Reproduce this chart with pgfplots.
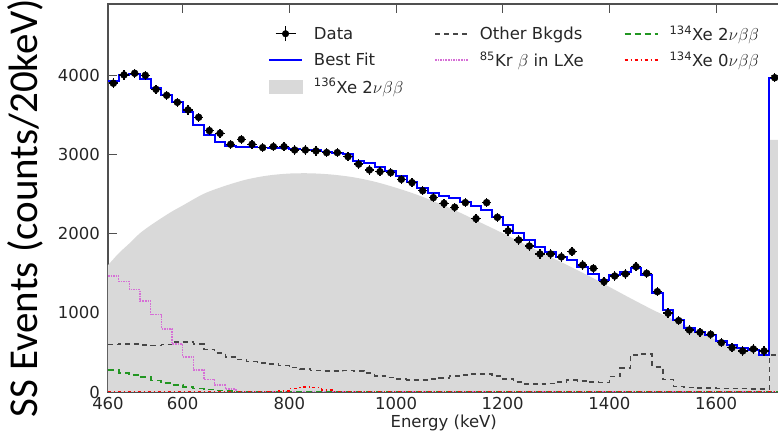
\documentclass[border=0pt]{standalone}
\usepackage{pgfplots}
\pgfplotsset{compat=1.18}
\usepackage{fontspec}
\setmainfont{DejaVu Sans}
\newfontfamily\carlito{Carlito}
\definecolor{xegray}{RGB}{217,217,217}
\definecolor{bkgray}{RGB}{70,70,70}
\definecolor{krviolet}{RGB}{214,110,214}
\definecolor{xegreen}{RGB}{34,150,34}
\definecolor{axgray}{RGB}{80,80,80}
\newcommand\mfont{\fontsize{16.5bp}{19bp}\selectfont}
\begin{document}
\begin{tikzpicture}
\begin{axis}[
  scale only axis, width=671.5bp, height=388bp,
  xmin=460, xmax=1719, ymin=0, ymax=4911,
  xtick={460,600,800,1000,1200,1400,1600},
  ytick={0,1000,2000,3000,4000},
  /pgf/number format/1000 sep={},
  /pgf/number format/assume math mode=true,
  tick align=inside, major tick length=9bp,
  tick style={axgray, line width=1bp},
  axis line style={axgray, line width=1.2bp},
  ticklabel style={font=\mfont, text=black!85},
  xticklabel style={inner sep=0bp, yshift=-4.7bp},
  yticklabel style={inner sep=0bp, xshift=-8bp},
  xlabel={Energy (keV)},
  xlabel style={font=\mfont, text=black!85, at={(rel axis cs:0.5,0)}, anchor=base, yshift=-35bp},
  legend image code/.code={\draw[#1] (0bp,0bp)--(33bp,0bp);},
  legend style={draw=none, fill=none, at={(rel axis cs:0.2382,0.95)}, anchor=north west,
    font=\mfont, text=black!85, inner sep=0bp, row sep=6bp,
    /tikz/every odd column/.append style={column sep=9bp},
    /tikz/column 2/.style={column sep=29bp},
    /tikz/column 4/.style={column sep=38bp}},
  legend columns=3, legend cell align=left,
]
% 136Xe 2nubb (grey area)
\addplot[draw=none, fill=xegray, smooth, forget plot] coordinates {
(460,1605) (480,1755) (500,1880) (520,2010) (540,2110) (560,2200) (580,2285) (600,2360)
(640,2510) (680,2610) (720,2690) (760,2740) (800,2765) (840,2768) (880,2752) (920,2718)
(960,2662) (1000,2585) (1040,2495) (1080,2388) (1120,2270) (1160,2140) (1200,2010)
(1240,1875) (1280,1740) (1320,1610) (1360,1475) (1400,1330) (1440,1185) (1480,1045)
(1520,915) (1560,790) (1600,660) (1640,560) (1680,480) (1700,450)} \closedcycle;
\addplot[draw=none, fill=xegray, const plot, forget plot] coordinates {(1700,3190) (1720,3190)} \closedcycle;
% Other backgrounds
\addplot[bkgray, line width=1.6bp, dash pattern=on 5bp off 4bp, const plot, forget plot] coordinates {
(460,600) (480,610) (500,605) (520,595) (540,590) (560,600) (580,635) (600,630) (620,610)
(640,540) (660,490) (680,440) (700,410) (720,385) (740,370) (760,355) (780,335) (800,310)
(820,290) (840,270) (860,262) (880,262) (900,272) (920,262) (940,240) (960,205) (980,185)
(1000,165) (1020,155) (1040,155) (1060,165) (1080,180) (1100,200) (1120,215) (1140,228)
(1160,228) (1180,200) (1200,165) (1220,125) (1240,105) (1260,98) (1280,110) (1300,130)
(1320,150) (1340,140) (1360,125) (1380,118) (1400,195) (1420,300) (1440,470) (1460,480)
(1480,320) (1500,160) (1520,70) (1540,55) (1560,50) (1580,48) (1600,45) (1620,44)
(1640,42) (1660,40) (1680,40) (1700,470) (1720,470)};
% 85Kr
\addplot[krviolet, line width=1.6bp, densely dotted, const plot, forget plot] coordinates {
(460,1470) (480,1400) (500,1295) (520,1150) (540,980) (560,800) (580,610) (600,445)
(620,280) (640,160) (660,85) (680,35) (700,8) (720,0) (1720,0)};
% 134Xe 2nubb
\addplot[xegreen, line width=1.8bp, dash pattern=on 6bp off 4bp, const plot, forget plot] coordinates {
(460,280) (480,245) (500,215) (520,185) (540,145) (560,110) (580,85) (600,62) (620,45)
(640,32) (660,18) (680,8) (700,3) (720,0) (1720,0)};
% 134Xe 0nubb
\addplot[red, line width=1.5bp, dash pattern=on 3bp off 3bp on 1bp off 3bp, const plot, forget plot] coordinates {
(460,0) (760,5) (780,15) (800,45) (820,65) (840,55) (860,25) (880,8) (900,0) (1720,0)};
% Best fit
\addplot[blue, line width=1.8bp, const plot, forget plot] coordinates {
(460,3941) (480,4013) (500,4020) (520,3958) (540,3844) (560,3759) (580,3675) (600,3548)
(620,3380) (640,3253) (660,3169) (680,3114) (700,3105) (720,3100) (740,3095) (760,3090)
(780,3085) (800,3080) (820,3070) (840,3060) (860,3045) (880,3025) (900,3009) (920,2928)
(940,2895) (960,2852) (980,2801) (1000,2734) (1020,2662) (1040,2578) (1060,2523)
(1080,2481) (1100,2452) (1120,2409) (1140,2354) (1160,2304) (1180,2219) (1200,2114)
(1220,2009) (1240,1924) (1260,1840) (1280,1776) (1300,1713) (1320,1671) (1340,1586)
(1360,1490) (1380,1418) (1400,1481) (1420,1523) (1440,1566) (1460,1481) (1480,1249)
(1500,1038) (1520,911) (1540,806) (1560,763) (1580,722) (1600,650) (1620,595) (1640,553)
(1660,532) (1680,468) (1700,3970) (1720,3970)};
% Data
\addplot[only marks, mark=*, mark size=3.5bp, black, forget plot,
  error bars/.cd, x dir=both, x fixed=9, y dir=both, y fixed=60, error mark=none,
  error bar style={line width=1.5bp}] coordinates {
(470,3908) (490,4013) (510,4034) (530,4008) (550,3831) (570,3755) (590,3667) (610,3570)
(630,3477) (650,3308) (670,3274) (690,3135) (710,3198) (730,3135) (750,3093) (770,3105)
(790,3105) (810,3063) (830,3063) (850,3051) (870,3030) (890,3030) (910,2979) (930,2884)
(950,2810) (970,2789) (990,2776) (1010,2692) (1030,2650) (1050,2548) (1070,2460)
(1090,2388) (1110,2338) (1130,2397) (1150,2194) (1170,2397) (1190,2211) (1210,2038)
(1230,1924) (1250,1848) (1270,1747) (1290,1747) (1310,1710) (1330,1776) (1350,1608)
(1370,1566) (1390,1396) (1410,1468) (1430,1494) (1450,1586) (1470,1502) (1490,1270)
(1510,997) (1530,903) (1550,785) (1570,756) (1590,730) (1610,624) (1630,561) (1650,519)
(1670,544) (1690,519) (1710,3978)};
% legend
\addlegendimage{legend image code/.code={\draw[black, line width=1.4bp] (16.5bp,-7.5bp)--(16.5bp,7.5bp) (6.5bp,0bp)--(26.5bp,0bp); \fill[black] (16.5bp,0bp) circle (3.3bp);}}
\addlegendentry{Data}
\addlegendimage{bkgray, line width=1.6bp, dash pattern=on 5bp off 4bp}
\addlegendentry{Other Bkgds}
\addlegendimage{xegreen, line width=1.8bp, dash pattern=on 6bp off 4bp}
\addlegendentry{\textsuperscript{134}Xe 2$\nu\beta\beta$}
\addlegendimage{blue, line width=1.8bp}
\addlegendentry{Best Fit}
\addlegendimage{krviolet, line width=1.6bp, densely dotted}
\addlegendentry{\textsuperscript{85}Kr $\beta$ in LXe}
\addlegendimage{red, line width=1.5bp, dash pattern=on 3bp off 3bp on 1bp off 3bp}
\addlegendentry{\textsuperscript{134}Xe 0$\nu\beta\beta$}
\addlegendimage{legend image code/.code={\fill[xegray] (0bp,-6.5bp) rectangle (33bp,6.5bp);}}
\addlegendentry{\textsuperscript{136}Xe 2$\nu\beta\beta$}
\coordinate (yl) at (rel axis cs:0,0.474);
\coordinate (sw) at (rel axis cs:0,0);
\coordinate (ne) at (rel axis cs:1,1);
\end{axis}
\node[rotate=90, anchor=base, inner sep=0pt, font=\carlito\fontsize{41bp}{45bp}\selectfont] at ([xshift=-70bp]yl) {SS Events (counts/20keV)};
\pgfresetboundingbox
\path[use as bounding box] ([shift={(-108bp,-39bp)}]sw) rectangle ([shift={(-1.5bp,4bp)}]ne);
\end{tikzpicture}
\end{document}
